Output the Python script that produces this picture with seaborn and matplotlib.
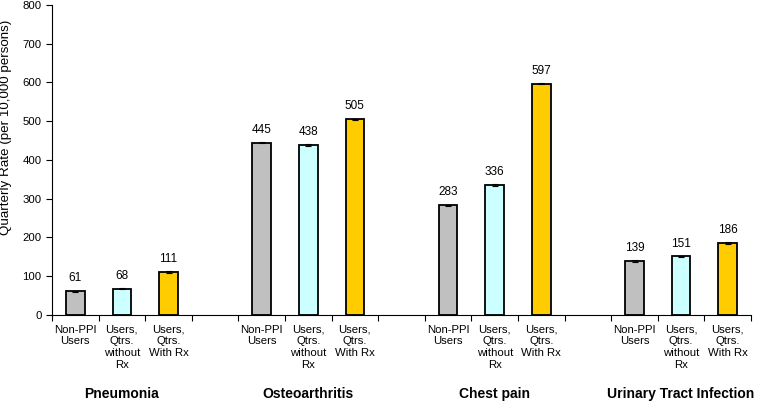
import pandas as pd
import seaborn as sns
import matplotlib.pyplot as plt
from matplotlib.container import BarContainer

# data
conditions = ['Pneumonia', 'Osteoarthritis', 'Chest pain', 'Urinary Tract Infection']
user_types = ['Non-PPI\nUsers', 'Users,\nQtrs.\nwithout\nRx', 'Users,\nQtrs.\nWith Rx']
rates = [
    [61, 68, 111],
    [445, 438, 505],
    [283, 336, 597],
    [139, 151, 186],
]
errors = [
    [2, 2, 2],
    [2, 2, 2],
    [2, 2, 2],
    [2, 2, 2],
]
colors = ['#C0C0C0', '#CCFFFF', '#FFCC00']

# long table, with one empty slot between groups
rows = []
order = []
for g, cond in enumerate(conditions):
    for t, ut in enumerate(user_types):
        slot = f'{cond}|{t}'
        order.append(slot)
        rows.append({'slot': slot, 'type': t, 'rate': rates[g][t], 'err': errors[g][t]})
    if g < len(conditions) - 1:
        order.append(f'gap{g}')
df = pd.DataFrame(rows)

sns.set_style('ticks')
plt.rcParams['font.family'] = ['Liberation Sans', 'DejaVu Sans']
plt.rcParams['font.size'] = 8
plt.rcParams['text.color'] = 'black'
plt.rcParams['xtick.color'] = 'black'
plt.rcParams['ytick.color'] = 'black'
plt.rcParams['axes.labelcolor'] = 'black'
plt.rcParams['axes.edgecolor'] = 'black'

fig = plt.figure(figsize=(7.58, 4.03), dpi=100)
ax = fig.add_axes([0.0686, 0.2184, 0.9222, 0.7692])

sns.barplot(data=df, x='slot', y='rate', hue='type', order=order,
            palette=colors, saturation=1, dodge=False, width=0.4, errorbar=None,
            edgecolor='black', linewidth=1.3, legend=False, ax=ax)

# value labels, then error bars
for c in ax.containers:
    if isinstance(c, BarContainer):
        ax.bar_label(c, fmt='%d', padding=5, fontsize=8.5)
xpos = [order.index(s) for s in df['slot']]
ax.errorbar(xpos, df['rate'], yerr=df['err'], fmt='none', ecolor='black',
            elinewidth=0.8, capsize=2, capthick=0.8, zorder=5)

ax.set_ylim(0, 800)
ax.set_yticks(range(0, 801, 100))
ax.set_xlim(-0.5, len(order) - 0.5)
ax.set_ylabel('Quarterly Rate (per 10,000 persons)', fontsize=9.6)
ax.yaxis.set_label_coords(-0.057, 0.605)
ax.set_xlabel('')

# boundaries as major ticks, bar labels as minor ticks
ax.set_xticks([i - 0.5 for i in range(len(order) + 1)])
ax.set_xticklabels([])
ax.set_xticks(range(len(order)), minor=True)
slot_labels = []
for s in order:
    if s.startswith('gap'):
        slot_labels.append('')
    else:
        slot_labels.append(user_types[int(s.split('|')[1])])
ax.set_xticklabels(slot_labels, minor=True, va='top', ha='center')
ax.tick_params(axis='x', which='minor', length=0, pad=7, labelsize=8.2)
ax.tick_params(axis='x', which='major', length=4, width=0.8, direction='out')
ax.tick_params(axis='y', length=4, width=0.8, labelsize=8.2)

for g, cond in enumerate(conditions):
    centre = order.index(f'{cond}|1')
    ax.text(centre, -0.255, cond, transform=ax.get_xaxis_transform(),
            ha='center', va='center', fontsize=10, fontweight='bold')

sns.despine(ax=ax)
for sp in ['left', 'bottom']:
    ax.spines[sp].set_linewidth(0.8)

fig.savefig('out.png', dpi=100)
